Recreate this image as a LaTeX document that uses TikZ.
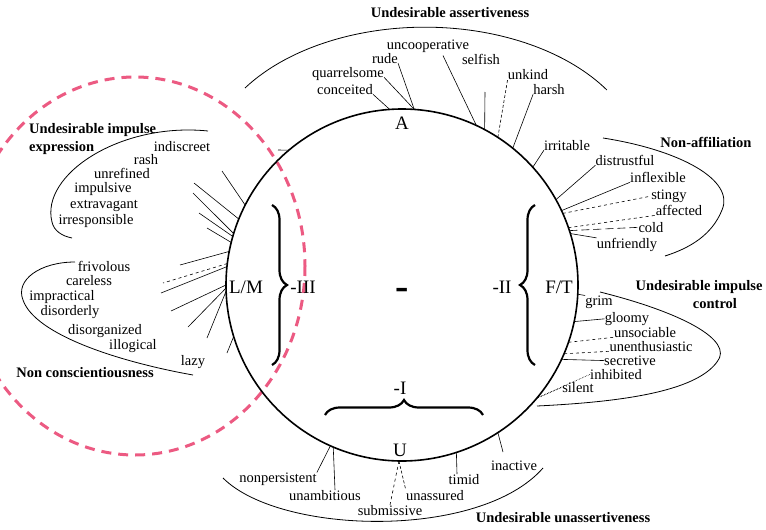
\documentclass[tikz,border=0pt]{standalone}
\usepackage{fontspec}
\setmainfont{Liberation Serif}
\usetikzlibrary{decorations.pathreplacing}
\definecolor{markpink}{RGB}{236,90,130}
\begin{document}
\begin{tikzpicture}[
		x=1pt, y=-1pt,
		word/.style={font=\fontsize{14.5}{16}\selectfont, inner sep=0pt, anchor=mid},
		group/.style={font=\bfseries\fontsize{14.5}{18}\selectfont, inner sep=0pt, anchor=mid},
		pole/.style={font=\fontsize{19}{22}\selectfont, inner sep=0pt},
		lead/.style={line width=0.6pt},
		outline/.style={line width=0.8pt},
		bracket/.style={decorate, decoration={brace, amplitude=15pt}, line width=2.2pt}
	]
	\useasboundingbox (0,0) rectangle (766,530);
	\begin{scope}
		\clip (0,0) rectangle (766,530);
		\draw[markpink, line width=3pt, dash pattern=on 10pt off 7pt] (135,266) ellipse [x radius=170, y radius=189];
	\end{scope}

	\node[circle, draw, line width=1.6pt, minimum size=352pt, inner sep=0pt, outer sep=0pt] (wheel) at (402,285) {};

	\node[pole] (A) at (402,123) {A};
	\node[pole] (U) at (400,450) {U};
	\node[pole] (LM) at (246,287) {L/M};
	\node[pole] (FT) at (559,287) {F/T};
	\node[pole] (minusIII) at (303,287) {-III};
	\node[pole] (minusII) at (502,287) {-II};
	\node[pole] (minusI) at (400,388) {-I};
	\node[font=\bfseries\fontsize{40}{40}\selectfont, inner sep=0pt] (zero) at (402,294) {-};

	\draw[bracket] (272,205) -- (272,365);
	\draw[bracket] (535,365) -- (535,205);
	\draw[bracket] (325,415) -- (483,415);

	% group titles
	\node[group] (assert) at (450,15) {Undesirable assertiveness};
	\node[group, anchor=west, align=left] (expression) at (29,139) {Undesirable impulse\\expression};
	\node[group] (affiliation) at (706,145) {Non-affiliation};
	\node[group] (impulse) at (699,288) {Undesirable impulse};
	\node[group] (control) at (715,306) {control};
	\node[group] (conscientious) at (85,375) {Non conscientiousness};
	\node[group] (unassert) at (563,520) {Undesirable unassertiveness};

	\draw[outline] (245,88) arc[start angle=-146, end angle=-33, x radius=217, y radius=138];
	\draw[outline] (208,131) .. controls (120,122) and (40,175) .. (52,222) .. controls (54,231) and (62,236) .. (72,238);
	\draw[outline] (75,262) .. controls (40,262) and (15,280) .. (23,300) .. controls (35,335) and (120,362) .. (193,375);
	\draw[outline] (603,138) .. controls (680,150) and (735,180) .. (722,210) .. controls (712,235) and (690,248) .. (665,256);
	\draw[outline] (600,292) .. controls (680,312) and (735,340) .. (717,362) .. controls (695,392) and (620,402) .. (537,406);
	\draw[outline] (223,478) .. controls (280,535) and (480,540) .. (543,468);

	% top
	\node[word] (uncooperative) at (428,47) {uncooperative};
	\node[word] (rude) at (385,61) {rude};
	\node[word] (selfish) at (481,62) {selfish};
	\node[word] (quarrelsome) at (348,75) {quarrelsome};
	\node[word] (unkind) at (528,77) {unkind};
	\node[word] (conceited) at (345,92) {conceited};
	\node[word] (harsh) at (549,92) {harsh};
	% right
	\node[word] (irritable) at (567,148) {irritable};
	\node[word] (distrustful) at (625,163) {distrustful};
	\node[word] (inflexible) at (658,180) {inflexible};
	\node[word] (stingy) at (669,197) {stingy};
	\node[word] (affected) at (679,213) {affected};
	\node[word] (cold) at (651,230) {cold};
	\node[word] (unfriendly) at (627,246) {unfriendly};
	\node[word] (grim) at (599,303) {grim};
	\node[word] (gloomy) at (627,320) {gloomy};
	\node[word] (unsociable) at (645,335) {unsociable};
	\node[word] (unenthusiastic) at (651,349) {unenthusiastic};
	\node[word] (secretive) at (630,363) {secretive};
	\node[word] (inhibited) at (616,377) {inhibited};
	\node[word] (silent) at (578,390) {silent};
	% bottom
	\node[word] (nonpersistent) at (278,480) {nonpersistent};
	\node[word] (unambitious) at (325,498) {unambitious};
	\node[word] (submissive) at (390,513) {submissive};
	\node[word] (unassured) at (435,498) {unassured};
	\node[word] (timid) at (464,482) {timid};
	\node[word] (inactive) at (514,468) {inactive};
	% left
	\node[word] (indiscreet) at (182,149) {indiscreet};
	\node[word] (rash) at (146,162) {rash};
	\node[word] (unrefined) at (122,176) {unrefined};
	\node[word] (impulsive) at (103,190) {impulsive};
	\node[word] (extravagant) at (104,206) {extravagant};
	\node[word] (irresponsible) at (96,222) {irresponsible};
	\node[word] (frivolous) at (104,269) {frivolous};
	\node[word] (careless) at (89,283) {careless};
	\node[word] (impractical) at (62,298) {impractical};
	\node[word] (disorderly) at (70,313) {disorderly};
	\node[word] (disorganized) at (105,332) {disorganized};
	\node[word] (illogical) at (133,347) {illogical};
	\node[word] (lazy) at (193,363) {lazy};

	\coordinate (p-selfish) at (485,92);
	\coordinate (p-inactive) at (503,452);
	\coordinate (p-indiscreet) at (278,150);
	\coordinate (p-rash) at (222,171);
	\coordinate (p-unrefined) at (194,183);
	\coordinate (p-impulsive) at (193,193);
	\coordinate (p-extravagant) at (199,213);
	\coordinate (p-irresponsible) at (207,228);
	\coordinate (p-frivolous) at (180,265);
	\coordinate (p-careless) at (163,283);
	\coordinate (p-impractical) at (161,293);
	\coordinate (p-disorderly) at (171,311);
	\coordinate (p-disorganized) at (188,327);
	\coordinate (p-illogical) at (207,338);
	\coordinate (p-lazy) at (227,353);

	\draw[lead] (wheel.94.5) -- (conceited.base east);
	\draw[lead] (wheel.86.8) -- (quarrelsome.base east);
	\draw[lead] (wheel.86.4) -- (rude.base east);
	\draw[lead] (wheel.65.5) -- ([xshift=15pt,yshift=-3pt]uncooperative.south);
	\draw[lead] (wheel.62.1) -- (p-selfish);
	\draw[lead, densely dashed] (wheel.57) -- (unkind.base west);
	\draw[lead] (wheel.51) -- (harsh.base west);
	\draw[lead] (wheel.42.8) -- (irritable.base west);
	\draw[lead] (wheel.29.9) -- (distrustful.base west);
	\draw[lead] (wheel.25.3) -- (inflexible.base west);
	\draw[lead, dashed] (wheel.24.4) -- (stingy.west);
	\draw[lead, dashed] (wheel.19) -- (affected.base west);
	\draw[lead, dash pattern=on 8pt off 4pt] (wheel.18) -- (cold.west);
	\draw[lead] (wheel.17) -- (unfriendly.north west);
	\draw[lead] (wheel.357.4) -- (grim.north west);
	\draw[lead] (wheel.348.6) -- (gloomy.west);
	\draw[lead, dashed] (wheel.341.3) -- (unsociable.base west);
	\draw[lead, dashed] (wheel.337.6) -- (unenthusiastic.base west);
	\draw[lead] (wheel.335.3) -- (secretive.west);
	\draw[lead, densely dotted] (wheel.320.5) -- (inhibited.west);
	\draw[lead, densely dotted] (wheel.320.5) -- (silent.west);
	\draw[lead] (wheel.303.4) -- (p-inactive);
	\draw[lead] (wheel.288.1) -- ([xshift=-7pt]timid.north);
	\draw[lead, densely dashed] (wheel.269) -- (unassured.north west);
	\draw[lead, dashed] (wheel.269) -- (submissive.north);
	\draw[lead] (wheel.247.6) -- ([xshift=10pt]unambitious.north);
	\draw[lead] (wheel.246) -- (nonpersistent.north east);
	\draw[lead] (wheel.130) -- (p-indiscreet);
	\draw[lead] (wheel.153) -- (p-rash);
	\draw[lead] (wheel.158.7) -- (p-unrefined);
	\draw[lead] (wheel.163.5) -- (p-impulsive);
	\draw[lead] (wheel.164) -- (p-extravagant);
	\draw[lead] (wheel.166.9) -- (p-irresponsible);
	\draw[lead] (wheel.169.2) -- (p-frivolous);
	\draw[lead, dashed] (wheel.173.5) -- (p-careless);
	\draw[lead] (wheel.174.5) -- (p-impractical);
	\draw[lead] (wheel.180) -- (p-disorderly);
	\draw[lead] (wheel.181) -- (p-disorganized);
	\draw[lead] (wheel.182.3) -- (p-illogical);
	\draw[lead] (wheel.197.7) -- (p-lazy);
\end{tikzpicture}
\end{document}
